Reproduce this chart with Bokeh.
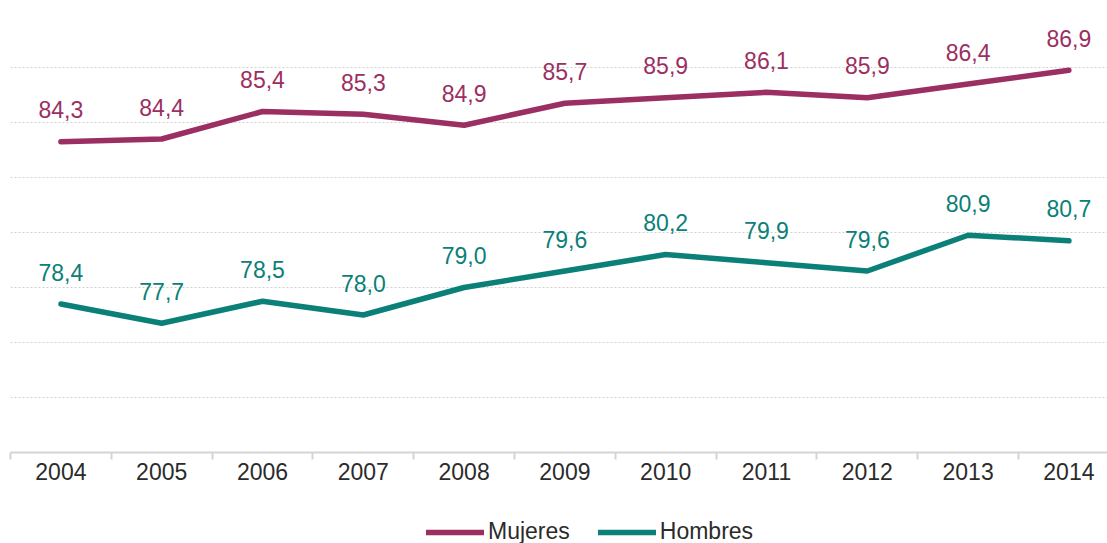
from bokeh.plotting import figure
from bokeh.layouts import column
from bokeh.models import (ColumnDataSource, Range1d, FixedTicker, Legend, LegendItem,
                          CustomJSTickFormatter)
from bokeh.embed import file_html
from bokeh.resources import INLINE
from bokeh.core.properties import value

years = [2004, 2005, 2006, 2007, 2008, 2009, 2010, 2011, 2012, 2013, 2014]
mujeres = [84.3, 84.4, 85.4, 85.3, 84.9, 85.7, 85.9, 86.1, 85.9, 86.4, 86.9]
hombres = [78.4, 77.7, 78.5, 78.0, 79.0, 79.6, 80.2, 79.9, 79.6, 80.9, 80.7]
series_names = ["Mujeres", "Hombres"]
y_ticks = [73, 75, 77, 79, 81, 83, 85, 87, 89]

C_MUJ = "#9b2f62"
C_HOM = "#0b8078"
FONT = "Liberation Sans"

def fmt(v):
    return f"{v:.1f}".replace(".", ",")

src_m = ColumnDataSource(dict(x=years, y=mujeres, lab=[fmt(v) for v in mujeres]))
src_h = ColumnDataSource(dict(x=years, y=hombres, lab=[fmt(v) for v in hombres]))

x_rng = Range1d(years[0] - 0.5, years[0] - 0.5 + 1097 / 100.8)

p = figure(frame_width=1097, frame_height=440, output_backend="svg", toolbar_location=None,
           x_range=x_rng, y_range=Range1d(y_ticks[0], y_ticks[-1]),
           min_border_left=10, min_border_right=0, min_border_top=12, min_border_bottom=60)
p.outline_line_color = None
p.background_fill_color = "white"
p.border_fill_color = "white"

p.yaxis.visible = False
p.ygrid.ticker = FixedTicker(ticks=y_ticks)
p.ygrid.grid_line_color = "#d0d0d0"
p.ygrid.grid_line_dash = "2 2"
p.ygrid.grid_line_width = 1
p.xgrid.visible = False

xa = p.xaxis[0]
xa.ticker = FixedTicker(ticks=years, minor_ticks=[y - 0.5 for y in years] + [years[-1] + 0.5])
xa.axis_line_color = "#d4d4d4"
xa.axis_line_width = 2
xa.major_tick_line_color = None
xa.major_tick_out = 0
xa.major_tick_in = 0
xa.minor_tick_line_color = "#d4d4d4"
xa.minor_tick_line_width = 2
xa.minor_tick_out = 7
xa.minor_tick_in = 0
xa.major_label_standoff = 3
xa.major_label_text_font = FONT
xa.major_label_text_font_size = "23px"
xa.major_label_text_color = "#2b2b2b"
xa.formatter = CustomJSTickFormatter(code="return String(tick)")

p.line("x", "y", source=src_m, line_color=C_MUJ, line_width=5.5, line_cap="round", line_join="round")
p.line("x", "y", source=src_h, line_color=C_HOM, line_width=5.5, line_cap="round", line_join="round")

for src, col in ((src_m, C_MUJ), (src_h, C_HOM)):
    p.text("x", "y", text="lab", source=src, text_color=col, text_font=value(FONT),
           text_font_size="23px", text_align="center", text_baseline="middle", y_offset=-32)

# Legend strip below the chart
lf = figure(frame_width=1097, frame_height=31, output_backend="svg", toolbar_location=None,
            x_range=x_rng, y_range=Range1d(0, 1),
            x_axis_location=None, y_axis_location=None,
            min_border_left=10, min_border_right=0, min_border_top=0, min_border_bottom=0)
lf.outline_line_color = None
lf.grid.visible = False
lf.background_fill_color = "white"
lf.border_fill_color = "white"
lr_m = lf.line("x", "y", source=src_m, line_color=C_MUJ, line_width=5.5, line_cap="round")
lr_h = lf.line("x", "y", source=src_h, line_color=C_HOM, line_width=5.5, line_cap="round")

legend = Legend(items=[LegendItem(label=series_names[0], renderers=[lr_m]),
                       LegendItem(label=series_names[1], renderers=[lr_h])],
                orientation="horizontal", location=(416, -2),
                label_text_font=FONT, label_text_font_size="23px", label_text_color="#2b2b2b",
                glyph_width=58, glyph_height=24, label_standoff=4, spacing=28,
                border_line_color=None, background_fill_alpha=0, padding=0, margin=0)
lf.add_layout(legend, "center")

layout = column(p, lf, spacing=0)
open("out.html", "w").write(file_html(layout, INLINE))
